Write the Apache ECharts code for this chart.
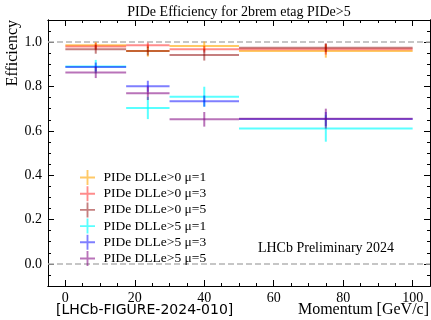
<!DOCTYPE html>
<html>
<head>
<meta charset="utf-8">
<script src="https://cdn.jsdelivr.net/npm/echarts@6/dist/echarts.min.js"></script>
<style>
  html, body { margin: 0; padding: 0; background: #fff; }
  #chart { width: 431px; height: 320px; }
</style>
</head>
<body>
<div id="chart"></div>
<script>
// momentum bins [GeV/c]
const binLo = [0, 17.5, 30, 50];
const binHi = [17.5, 30, 50, 100];
const binCenter = [8.75, 23.75, 40, 75];

const seriesNames = [
  "PIDe DLLe>0 μ=1",
  "PIDe DLLe>0 μ=3",
  "PIDe DLLe>0 μ=5",
  "PIDe DLLe>5 μ=1",
  "PIDe DLLe>5 μ=3",
  "PIDe DLLe>5 μ=5",
];

// efficiencies per bin and their errors
const effDLLe0Mu1 = [0.986, 0.960, 0.983, 0.960];
const errDLLe0Mu1 = [0.015, 0.025, 0.020, 0.030];
const effDLLe0Mu3 = [0.981, 0.986, 0.968, 0.968];
const errDLLe0Mu3 = [0.015, 0.012, 0.015, 0.024];
const effDLLe0Mu5 = [0.968, 0.960, 0.942, 0.975];
const errDLLe0Mu5 = [0.020, 0.020, 0.025, 0.020];
const effDLLe5Mu1 = [0.890, 0.703, 0.754, 0.611];
const errDLLe5Mu1 = [0.030, 0.050, 0.045, 0.060];
const effDLLe5Mu3 = [0.888, 0.801, 0.734, 0.653];
const errDLLe5Mu3 = [0.020, 0.025, 0.025, 0.032];
const effDLLe5Mu5 = [0.863, 0.769, 0.652, 0.655];
const errDLLe5Mu5 = [0.025, 0.030, 0.033, 0.045];

const xMajor = [0, 20, 40, 60, 80, 100];
const xMinor = [5, 10, 15, 25, 30, 35, 45, 50, 55, 65, 70, 75, 85, 90, 95];
const yMajor = [0, 0.2, 0.4, 0.6, 0.8, 1.0];
const yMinor = [-0.05, 0.05, 0.1, 0.15, 0.25, 0.3, 0.35, 0.45, 0.5, 0.55,
  0.65, 0.7, 0.75, 0.85, 0.9, 0.95, 1.05];

const effs = [effDLLe0Mu1, effDLLe0Mu3, effDLLe0Mu5, effDLLe5Mu1, effDLLe5Mu3, effDLLe5Mu5];
const errs = [errDLLe0Mu1, errDLLe0Mu3, errDLLe0Mu5, errDLLe5Mu1, errDLLe5Mu3, errDLLe5Mu5];
const colors = [
  "rgba(255,165,0,0.6)",
  "rgba(255,0,0,0.45)",
  "rgba(139,0,0,0.5)",
  "rgba(0,255,255,0.65)",
  "rgba(0,0,255,0.5)",
  "rgba(128,0,128,0.55)",
];

const SERIF = "'Liberation Serif', 'DejaVu Serif', serif";
const X_MIN = -5, X_MAX = 105, Y_MIN = -0.1, Y_MAX = 1.1;

function renderErrorBar(params, api) {
  const x = api.value(0), y = api.value(1);
  const lo = api.value(2), hi = api.value(3), e = api.value(4);
  const pl = api.coord([lo, y]);
  const pr = api.coord([hi, y]);
  const pt = api.coord([x, y + e]);
  const pb = api.coord([x, y - e]);
  const style = { stroke: api.visual("color"), lineWidth: 2, fill: null };
  return {
    type: "group",
    children: [
      { type: "line", shape: { x1: pl[0], y1: pl[1], x2: pr[0], y2: pr[1] }, style },
      { type: "line", shape: { x1: pt[0], y1: pt[1], x2: pb[0], y2: pb[1] }, style },
    ],
  };
}

function xAxisDef(position, ticks, len, labels) {
  return {
    type: "value", position, min: X_MIN, max: X_MAX,
    axisLine: { show: true, onZero: false, lineStyle: { color: "#000", width: 1 } },
    axisTick: { show: true, inside: true, length: len, customValues: ticks, lineStyle: { color: "#000" } },
    axisLabel: labels
      ? { show: true, customValues: ticks, margin: 5, color: "#000", fontFamily: SERIF, fontSize: 14 }
      : { show: false },
    splitLine: { show: false },
  };
}

function yAxisDef(position, ticks, len, labels) {
  return {
    type: "value", position, min: Y_MIN, max: Y_MAX,
    axisLine: { show: true, onZero: false, lineStyle: { color: "#000", width: 1 } },
    axisTick: { show: true, inside: true, length: len, customValues: ticks, lineStyle: { color: "#000" } },
    axisLabel: labels
      ? { show: true, customValues: ticks, margin: 6, color: "#000", fontFamily: SERIF, fontSize: 14,
          formatter: (v) => v.toFixed(1) }
      : { show: false },
    splitLine: { show: false },
  };
}

const series = seriesNames.map((name, i) => ({
  name,
  type: "custom",
  renderItem: renderErrorBar,
  encode: { x: 0, y: 1 },
  itemStyle: { color: colors[i] },
  data: binCenter.map((c, k) => [c, effs[i][k], binLo[k], binHi[k], errs[i][k]]),
  z: 3,
}));

series[0].markLine = {
  silent: true,
  symbol: "none",
  label: { show: false },
  lineStyle: { color: "#b4b4b4", type: [6, 3], width: 1.5 },
  data: [{ yAxis: 1 }, { yAxis: 0 }],
  z: 1,
};

const chart = echarts.init(document.getElementById("chart"));
chart.setOption({
  animation: false,
  backgroundColor: "#fff",
  grid: { left: 48, right: 1, top: 20, bottom: 34 },
  xAxis: [
    xAxisDef("bottom", xMajor, 6, true),
    xAxisDef("bottom", xMinor, 3, false),
    xAxisDef("top", xMajor, 6, false),
    xAxisDef("top", xMinor, 3, false),
  ],
  yAxis: [
    yAxisDef("left", yMajor, 6, true),
    yAxisDef("left", yMinor, 3, false),
    yAxisDef("right", yMajor, 6, false),
    yAxisDef("right", yMinor, 3, false),
  ],
  legend: {
    orient: "vertical",
    left: 75,
    top: 165,
    itemWidth: 16,
    itemHeight: 15,
    itemGap: 1.2,
    icon: "path://M0,7H16V9H0Z M7,0H9V16H7Z",
    data: seriesNames,
    textStyle: { fontFamily: SERIF, fontSize: 13.5, color: "#000", padding: [0, 0, 0, 3] },
  },
  graphic: [
    {
      type: "text", x: 239, y: 12,
      style: { text: "PIDe Efficiency for 2brem etag PIDe>5", font: "14px " + SERIF,
        fill: "#000", align: "center", verticalAlign: "middle" },
    },
    {
      type: "text", x: 13, y: 20, rotation: Math.PI / 2,
      style: { text: "Efficiency", font: "16px " + SERIF, fill: "#000",
        align: "right", verticalAlign: "middle" },
    },
    {
      type: "text", x: 429, y: 310,
      style: { text: "Momentum [GeV/c]", font: "16px " + SERIF, fill: "#000",
        align: "right", verticalAlign: "middle" },
    },
    {
      type: "text", x: 56, y: 310,
      style: { text: "[LHCb-FIGURE-2024-010]", font: "14px 'DejaVu Sans', sans-serif",
        fill: "#000", align: "left", verticalAlign: "middle" },
    },
    {
      type: "text", x: 326, y: 248,
      style: { text: "LHCb Preliminary 2024", font: "14px " + SERIF, fill: "#000",
        align: "center", verticalAlign: "middle" },
    },
  ],
  series,
});
</script>
</body>
</html>
